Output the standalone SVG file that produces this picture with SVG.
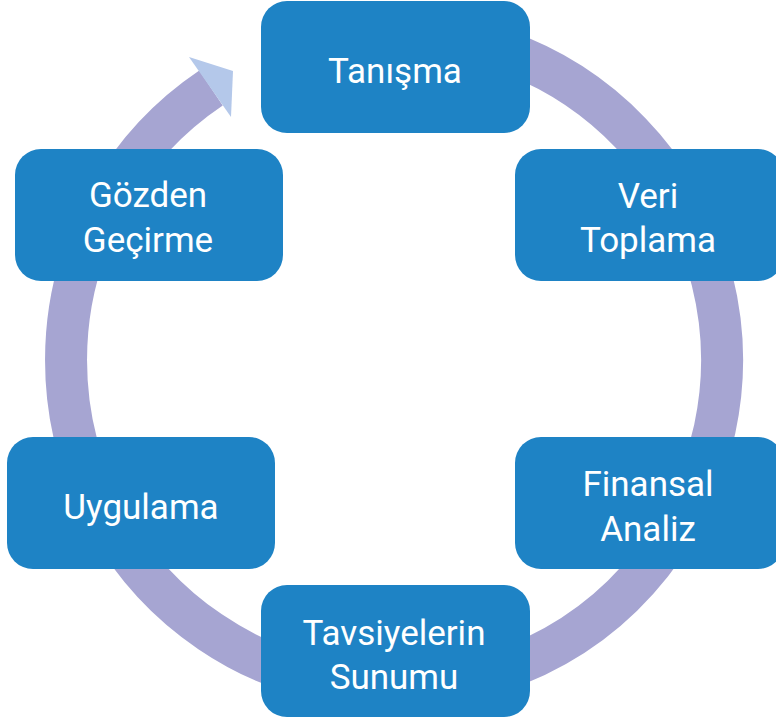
<svg xmlns="http://www.w3.org/2000/svg" width="776" height="721" viewBox="0 0 776 721">
  <defs>
    <style>
      .ring { fill: none; stroke: #a6a5d2; stroke-width: 42; }
      .head { fill: #b4c8ea; }
      .box { fill: #1e83c5; }
      .lbl { fill: #ffffff; font-family: Roboto, "Liberation Sans", sans-serif; font-size: 35px; text-anchor: middle; }
    </style>
  </defs>
  <rect width="776" height="721" fill="#ffffff"/>
  <g id="connectors">
    <!-- ring from top (hidden behind Tanışma) clockwise to the arrow base at ~235.9° -->
    <path class="ring" d="M 338 37 A 328 328 0 1 1 211 88"/>
    <polygon class="head" points="189,57 233,71 231,117"/>
  </g>
  <g id="node-tanisma">
    <rect class="box" x="261" y="1" width="269" height="132" rx="26"/>
    <text class="lbl" x="395" y="83">Tanışma</text>
  </g>
  <g id="node-veri-toplama">
    <rect class="box" x="515" y="149" width="269" height="132" rx="26"/>
    <text class="lbl" x="648" y="208">Veri</text>
    <text class="lbl" x="648" y="252">Toplama</text>
  </g>
  <g id="node-finansal-analiz">
    <rect class="box" x="515" y="437" width="269" height="132" rx="26"/>
    <text class="lbl" x="648" y="496">Finansal</text>
    <text class="lbl" x="648" y="541">Analiz</text>
  </g>
  <g id="node-tavsiyelerin-sunumu">
    <rect class="box" x="261" y="585" width="269" height="132" rx="26"/>
    <text class="lbl" x="394" y="645">Tavsiyelerin</text>
    <text class="lbl" x="394" y="689">Sunumu</text>
  </g>
  <g id="node-uygulama">
    <rect class="box" x="7" y="437" width="268" height="132" rx="26"/>
    <text class="lbl" x="141" y="519">Uygulama</text>
  </g>
  <g id="node-gozden-gecirme">
    <rect class="box" x="15" y="149" width="268" height="132" rx="26"/>
    <text class="lbl" x="148" y="207">Gözden</text>
    <text class="lbl" x="148" y="252">Geçirme</text>
  </g>
</svg>
